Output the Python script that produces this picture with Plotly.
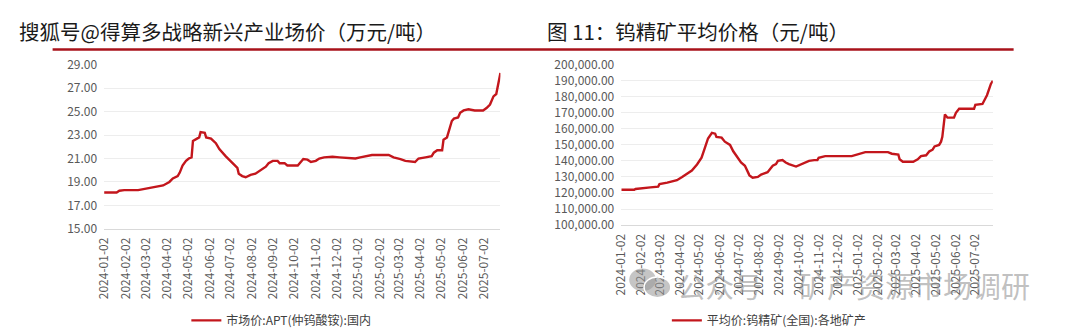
import plotly.graph_objects as go

# ---------------- data ----------------
apt_dates = [
    "2024-01-02", "2024-01-20", "2024-01-24", "2024-01-31", "2024-02-20", "2024-02-24",
    "2024-03-08", "2024-03-18", "2024-03-27", "2024-04-05", "2024-04-10", "2024-04-17",
    "2024-04-20", "2024-04-24", "2024-04-29", "2024-05-03", "2024-05-07", "2024-05-09",
    "2024-05-14", "2024-05-18", "2024-05-20", "2024-05-26", "2024-05-28", "2024-06-04",
    "2024-06-11", "2024-06-16", "2024-06-25", "2024-07-05", "2024-07-12", "2024-07-14",
    "2024-07-19", "2024-07-24", "2024-07-31", "2024-08-07", "2024-08-14", "2024-08-22",
    "2024-08-26", "2024-09-01", "2024-09-08", "2024-09-11", "2024-09-18", "2024-09-22",
    "2024-10-07", "2024-10-12", "2024-10-15", "2024-10-21", "2024-10-26", "2024-11-02",
    "2024-11-07", "2024-11-14", "2024-11-26", "2024-12-06", "2024-12-20", "2024-12-29",
    "2025-01-05", "2025-01-13", "2025-01-22", "2025-02-15", "2025-02-22", "2025-03-04",
    "2025-03-11", "2025-03-25", "2025-03-30", "2025-04-09", "2025-04-18", "2025-04-21",
    "2025-04-26", "2025-05-03", "2025-05-05", "2025-05-10", "2025-05-13", "2025-05-17",
    "2025-05-20", "2025-05-26", "2025-05-29", "2025-06-03", "2025-06-10", "2025-06-19",
    "2025-07-01", "2025-07-06", "2025-07-11", "2025-07-16", "2025-07-20", "2025-07-23",
    "2025-07-26",
]
apt_values = [
    18.10, 18.10, 18.25, 18.30, 18.30, 18.35,
    18.50, 18.60, 18.70, 19.00, 19.30, 19.50,
    19.80, 20.40, 20.80, 21.00, 21.10, 22.50,
    22.70, 22.80, 23.25, 23.20, 22.80, 22.70,
    22.30, 21.80, 21.20, 20.60, 20.20, 19.70,
    19.50, 19.40, 19.60, 19.70, 20.00, 20.30,
    20.60, 20.80, 20.80, 20.60, 20.60, 20.40,
    20.40, 20.70, 20.95, 20.90, 20.70, 20.80,
    21.00, 21.10, 21.15, 21.10, 21.05, 21.00,
    21.10, 21.20, 21.30, 21.30, 21.10, 20.95,
    20.80, 20.70, 21.00, 21.10, 21.20, 21.50,
    21.70, 21.70, 22.60, 22.80, 23.40, 24.20,
    24.40, 24.50, 24.90, 25.10, 25.20, 25.10,
    25.10, 25.30, 25.60, 26.30, 26.50, 27.50,
    28.30,
]

ore_dates = [
    "2024-01-02", "2024-01-22", "2024-01-24", "2024-02-11", "2024-02-16", "2024-02-28",
    "2024-03-01", "2024-03-13", "2024-03-21", "2024-03-28", "2024-04-05", "2024-04-12",
    "2024-04-20", "2024-04-28", "2024-05-05", "2024-05-10", "2024-05-15", "2024-05-21",
    "2024-05-26", "2024-05-28", "2024-06-05", "2024-06-10", "2024-06-18", "2024-06-23",
    "2024-06-30", "2024-07-05", "2024-07-11", "2024-07-18", "2024-07-23", "2024-07-31",
    "2024-08-05", "2024-08-15", "2024-08-23", "2024-08-28", "2024-08-31", "2024-09-07",
    "2024-09-12", "2024-09-17", "2024-09-28", "2024-10-08", "2024-10-18", "2024-10-26",
    "2024-10-31", "2024-11-02", "2024-11-12", "2024-12-23", "2024-12-31", "2025-01-13",
    "2025-02-17", "2025-02-23", "2025-03-05", "2025-03-07", "2025-03-12", "2025-03-28",
    "2025-04-04", "2025-04-09", "2025-04-17", "2025-04-22", "2025-04-27", "2025-04-30",
    "2025-05-07", "2025-05-10", "2025-05-12", "2025-05-16", "2025-05-20", "2025-05-30",
    "2025-06-02", "2025-06-07", "2025-06-30", "2025-07-02", "2025-07-13", "2025-07-15",
    "2025-07-20", "2025-07-26", "2025-07-29",
]
ore_values = [
    122000, 122000, 122500, 123000, 123500, 124000,
    125500, 126500, 127500, 128000, 130000, 132000,
    134000, 137800, 142000, 148000, 154000, 157500,
    157000, 155000, 154500, 152000, 150000, 146000,
    142000, 139000, 137000, 131000, 129500, 130000,
    131500, 133000, 137000, 138000, 140000, 140500,
    139000, 138000, 136500, 138000, 140000, 140500,
    140500, 142000, 143000, 143000, 144000, 145500,
    145500, 144500, 144000, 141000, 139500, 139500,
    141000, 143000, 143500, 146000, 147000, 149000,
    150000, 152000, 155000, 169000, 167000, 167000,
    170000, 172500, 172500, 175000, 175500, 177000,
    181000, 188000, 190000,
]

tick_dates = [
    "2024-01-02", "2024-02-02", "2024-03-02", "2024-04-02", "2024-05-02", "2024-06-02",
    "2024-07-02", "2024-08-02", "2024-09-02", "2024-10-02", "2024-11-02", "2024-12-02",
    "2025-01-02", "2025-02-02", "2025-03-02", "2025-04-02", "2025-05-02", "2025-06-02",
    "2025-07-02",
]

apt_name = "市场价:APT(仲钨酸铵):国内"
ore_name = "平均价:钨精矿(全国):各地矿产"
left_title = "搜狐号@得算多战略新兴产业场价（万元/吨）"
right_title = "图 11：钨精矿平均价格（元/吨）"

# ---------------- figure ----------------
W, H = 1080, 335
FONT = "Noto Sans CJK SC"
RED = "#C3161C"
TICK = "#595959"
GRID = "#EDEDED"


def fx(px):
    return px / W


def fy(py):
    return 1 - py / H


fig = go.Figure()
fig.add_trace(go.Scatter(x=apt_dates, y=apt_values, mode="lines", name=apt_name,
                         line=dict(color=RED, width=2.4), xaxis="x", yaxis="y",
                         legend="legend"))
fig.add_trace(go.Scatter(x=ore_dates, y=ore_values, mode="lines", name=ore_name,
                         line=dict(color=RED, width=2.4), xaxis="x2", yaxis="y2",
                         legend="legend2"))

xcommon = dict(type="date", tickvals=tick_dates, ticktext=tick_dates, tickangle=-90,
               tickfont=dict(family=FONT, size=12, color=TICK), showgrid=False,
               showline=True, linecolor="#D9D9D9", linewidth=1, ticks="",
               ticklabelstandoff=3, zeroline=False, fixedrange=True)
ycommon = dict(showgrid=True, gridcolor=GRID, gridwidth=1, zeroline=False,
               showline=False, ticks="", ticklabelstandoff=6,
               tickfont=dict(family=FONT, size=12, color=TICK), fixedrange=True)

fig.update_layout(
    width=W, height=H,
    margin=dict(l=0, r=0, t=0, b=0),
    paper_bgcolor="white", plot_bgcolor="white",
    font=dict(family=FONT),
    xaxis=dict(domain=[fx(95), fx(495)], range=["2024-01-02", "2025-07-26"],
               anchor="y", **xcommon),
    yaxis=dict(domain=[fy(232), fy(58)], range=[15, 29], dtick=2, tick0=15,
               tickformat=".2f", anchor="x", **ycommon),
    xaxis2=dict(domain=[fx(617), fx(992)], range=["2024-01-02", "2025-07-29"],
                anchor="y2", **xcommon),
    yaxis2=dict(domain=[fy(228), fy(58)], range=[100000, 200000], dtick=10000,
                tick0=100000, tickformat=",.2f", anchor="x2", **ycommon),
    showlegend=True,
    legend=dict(x=fx(178), y=fy(329), xanchor="left", yanchor="middle",
                font=dict(family=FONT, size=12, color="#404040"),
                bgcolor="rgba(0,0,0,0)", itemwidth=30),
    legend2=dict(x=fx(663), y=fy(329), xanchor="left", yanchor="middle",
                 font=dict(family=FONT, size=12, color="#404040"),
                 bgcolor="rgba(0,0,0,0)", itemwidth=30),
)

# titles
fig.add_annotation(text=left_title, x=fx(7), y=fy(22), xref="paper", yref="paper",
                   xanchor="left", yanchor="middle", showarrow=False,
                   font=dict(family=FONT, size=20.5, color="#1A1A1A"))
fig.add_annotation(text=right_title, x=fx(540), y=fy(22), xref="paper", yref="paper",
                   xanchor="left", yanchor="middle", showarrow=False,
                   font=dict(family=FONT, size=20.5, color="#1A1A1A"))

# red rule under titles
fig.add_shape(type="line", x0=fx(43), x1=fx(1013), y0=fy(42), y1=fy(42),
              xref="paper", yref="paper", line=dict(color="#A8121A", width=2.5))

# watermark
fig.add_shape(type="circle", x0=fx(625), x1=fx(652), y0=fy(298), y1=fy(274),
              xref="paper", yref="paper", fillcolor="rgba(150,150,150,0.55)",
              line=dict(width=0), layer="above")
fig.add_shape(type="circle", x0=fx(640), x1=fx(667), y0=fy(305), y1=fy(283),
              xref="paper", yref="paper", fillcolor="rgba(150,150,150,0.55)",
              line=dict(color="white", width=1.5), layer="above")
fig.add_annotation(text="公众号", x=fx(671), y=fy(292), xref="paper", yref="paper",
                   xanchor="left", yanchor="middle", showarrow=False,
                   font=dict(family=FONT, size=28.5, color="rgba(140,140,140,0.55)"))
fig.add_annotation(text="矿产资源市场调研", x=fx(793), y=fy(292), xref="paper",
                   yref="paper", xanchor="left", yanchor="middle", showarrow=False,
                   font=dict(family=FONT, size=29, color="rgba(140,140,140,0.55)"))

fig.write_html("out.html")
